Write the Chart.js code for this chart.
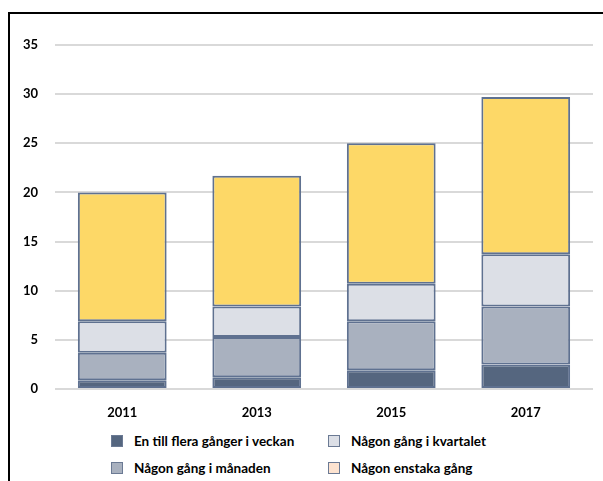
<!DOCTYPE html>
<html>
<head>
<meta charset="utf-8">
<script src="https://cdn.jsdelivr.net/npm/chart.js@4.4.1/dist/chart.umd.min.js"></script>
<style>
  body { margin: 0; background: #fff; width: 603px; height: 481px; overflow: hidden; position: relative; font-family: Lato, sans-serif; }
  #frame { position: absolute; left: 8px; top: 12px; width: 700px; height: 600px; border-left: 2px solid #000; border-top: 2px solid #000; }
  #wrap { position: absolute; left: 0; top: 0; width: 603px; height: 430px; }
  #legend { position: absolute; left: 0; top: 432px; width: 603px; }
  .item { position: absolute; font-weight: bold; font-size: 13.5px; color: #000; white-space: nowrap; line-height: 18px; }
  .sw { display: inline-block; width: 10px; height: 10px; border: 1.5px solid #6b7a94; vertical-align: -1px; margin-right: 11px; }
</style>
</head>
<body>
<div id="frame"></div>
<div id="wrap"><canvas id="myChart"></canvas></div>
<div id="legend"></div>
<script>
// Daten
const years = ['2011', '2013', '2015', '2017'];
const seriesNames = ['En till flera gånger i veckan', 'Någon gång i månaden', 'Någon gång i kvartalet', 'Någon enstaka gång'];
const weekly = [0.9, 1.2, 1.9, 2.5];
const monthly = [2.8, 4.1, 5.0, 5.9];
const quarterly = [3.2, 3.1, 3.8, 5.3];
const occasionally = [13.1, 13.3, 14.3, 16.0];
const yTicks = [0, 5, 10, 15, 20, 25, 30, 35];

const barColors = ['#55667f', '#a9b1bf', '#dcdfe6', '#fdd867'];
const legendColors = ['#55667f', '#a9b1bf', '#dcdfe6', '#fde3d0'];
const edge = '#5f7190';

const values = [weekly, monthly, quarterly, occasionally];
const datasets = values.map((v, i) => ({
  label: seriesNames[i],
  data: v,
  backgroundColor: barColors[i],
  borderColor: edge,
  borderWidth: 2,
  borderSkipped: false,
  barPercentage: 0.66,
  categoryPercentage: 1
}));

const font = { family: 'Lato, sans-serif', weight: 'bold', size: 13 };

// Legende (zwei Spalten, wie im Original)
const legendPos = [[111, 0], [111, 27], [328, 0], [328, 27]];
const legendEl = document.getElementById('legend');
seriesNames.forEach((name, i) => {
  const d = document.createElement('div');
  d.className = 'item';
  d.style.left = legendPos[i][0] + 'px';
  d.style.top = legendPos[i][1] + 'px';
  d.innerHTML = '<span class="sw" style="background:' + legendColors[i] + '"></span>' + name;
  legendEl.appendChild(d);
});

window.onload = function () {
  const ctx = document.getElementById('myChart').getContext('2d');
  new Chart(ctx, {
    type: 'bar',
    data: { labels: years, datasets: datasets },
    options: {
      responsive: true,
      maintainAspectRatio: false,
      animation: false,
      layout: { padding: { left: 0, right: 10, top: 45, bottom: 11 } },
      plugins: { legend: { display: false }, tooltip: { enabled: false } },
      scales: {
        x: {
          stacked: true,
          grid: { display: false },
          border: { display: false },
          ticks: { color: '#000', font: font, padding: 8 },
          afterFit: s => { s.height = 30; }
        },
        y: {
          stacked: true,
          min: 0,
          max: 35,
          afterBuildTicks: s => { s.ticks = yTicks.map(v => ({ value: v })); },
          grid: { color: '#d9d9d9', lineWidth: 2, drawTicks: false },
          border: { display: false },
          ticks: { color: '#000', font: font, padding: 17 },
          afterFit: s => { s.width = 55; }
        }
      }
    }
  });
};
</script>
</body>
</html>
